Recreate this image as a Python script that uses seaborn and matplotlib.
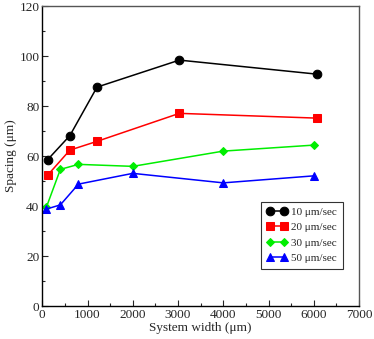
import matplotlib
matplotlib.use('Agg')
import pandas as pd
import matplotlib.pyplot as plt
import seaborn as sns
from matplotlib.ticker import MultipleLocator

# data
width_10 = [120, 610, 1210, 3030, 6060]
spacing_10 = [58.6, 68.2, 87.6, 98.4, 92.8]

width_20 = [120, 610, 1210, 3030, 6060]
spacing_20 = [52.4, 62.4, 65.9, 77.1, 75.2]

width_30 = [90, 400, 800, 2000, 4000, 6000]
spacing_30 = [39.5, 54.7, 56.7, 55.9, 62.0, 64.4]

width_50 = [90, 400, 800, 2000, 4000, 6000]
spacing_50 = [38.8, 40.5, 48.8, 53.1, 49.3, 52.1]

labels = ['10 μm/sec', '20 μm/sec', '30 μm/sec', '50 μm/sec']

sns.set_style('ticks')
plt.rcParams['font.family'] = ['Liberation Serif', 'DejaVu Serif']

fig = plt.figure(figsize=(3.74, 3.39), dpi=100)
ax = fig.add_axes([0.113, 0.097, 0.847, 0.885])

series = [
    (width_10, spacing_10, 'black', 'o', 6.2),
    (width_20, spacing_20, 'red', 's', 5.5),
    (width_30, spacing_30, '#00ee00', 'D', 4.3),
    (width_50, spacing_50, 'blue', '^', 6.0),
]
for (xs, ys, col, mk, ms), lab in zip(series, labels):
    df = pd.DataFrame({'x': xs, 'y': ys})
    sns.lineplot(data=df, x='x', y='y', ax=ax, color=col, marker=mk,
                 markersize=ms, markeredgecolor=col, linewidth=1.1,
                 label=lab, sort=False)

ax.set_xlim(0, 7000)
ax.set_ylim(0, 120)
ax.xaxis.set_major_locator(MultipleLocator(1000))
ax.xaxis.set_minor_locator(MultipleLocator(500))
ax.yaxis.set_major_locator(MultipleLocator(20))
ax.yaxis.set_minor_locator(MultipleLocator(10))
ax.tick_params(which='both', direction='in', top=False, right=False,
               labelsize=9.5, pad=2)
ax.tick_params(which='major', length=4, width=0.8)
ax.tick_params(which='minor', length=2.5, width=0.8)
for s in ax.spines.values():
    s.set_linewidth(1.0)
    s.set_color('black')
for s in ['top', 'right']:
    ax.spines[s].set_color('#555555')

ax.set_xlabel('System width (μm)', fontsize=9.5, labelpad=1)
ax.set_ylabel('Spacing (μm)', fontsize=9.5, labelpad=2)

leg = ax.legend(loc='upper left', bbox_to_anchor=(0.69, 0.348), fontsize=8,
                frameon=True, fancybox=False, edgecolor='black',
                numpoints=2, handlelength=1.9, handletextpad=0.35,
                borderpad=0.5, labelspacing=0.5, borderaxespad=0)
leg.get_frame().set_linewidth(0.8)

fig.savefig('out.png', dpi=100)
